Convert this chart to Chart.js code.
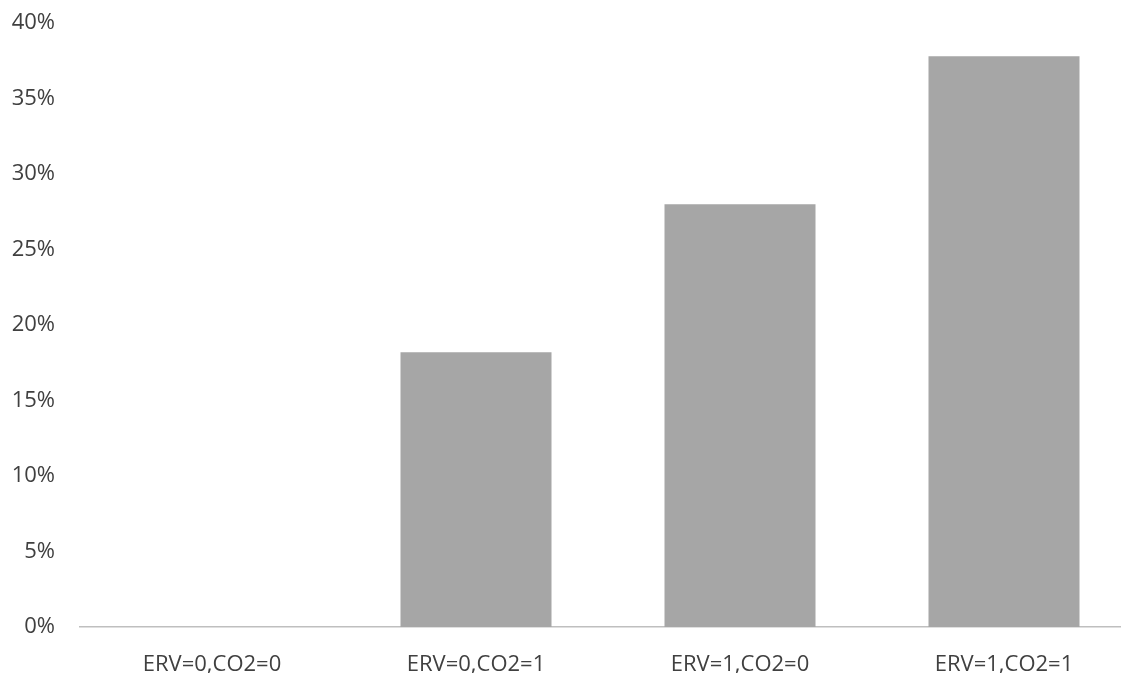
<!DOCTYPE html>
<html>
<head>
<meta charset="utf-8">
<script src="https://cdn.jsdelivr.net/npm/chart.js@4/dist/chart.umd.min.js"></script>
<style>
  html, body { margin: 0; padding: 0; background: #fff; overflow: hidden; }
  #wrap { position: relative; width: 1136px; height: 673px; }
</style>
</head>
<body>
<div id="wrap"><canvas id="c"></canvas></div>
<script>
const categories = ["ERV=0,CO2=0", "ERV=0,CO2=1", "ERV=1,CO2=0", "ERV=1,CO2=1"];
const values = [0, 18.2, 28.0, 37.8];
const yTicks = [0, 5, 10, 15, 20, 25, 30, 35, 40];

const FONT = { family: "'Open Sans', 'Liberation Sans', sans-serif", size: 22 };

new Chart(document.getElementById('c'), {
  type: 'bar',
  data: {
    labels: categories,
    datasets: [{
      data: values,
      backgroundColor: '#a6a6a6',
      borderWidth: 0,
      categoryPercentage: 1.0,
      barPercentage: 0.572
    }]
  },
  options: {
    responsive: true,
    maintainAspectRatio: false,
    animation: false,
    layout: { padding: { top: 23, right: 0, left: 0, bottom: 0 } },
    plugins: { legend: { display: false }, tooltip: { enabled: false } },
    scales: {
      x: {
        grid: { display: false, drawTicks: false },
        border: { display: true, color: '#bfbfbf', width: 1.5 },
        ticks: { color: '#404040', font: FONT, padding: 25, maxRotation: 0, autoSkip: false },
        afterFit: (s) => { s.height = 46; s.paddingLeft = 0; s.paddingRight = 0; }
      },
      y: {
        min: 0, max: 40,
        afterBuildTicks: (s) => { s.ticks = yTicks.map(v => ({ value: v })); },
        grid: { display: false, drawTicks: false },
        border: { display: false },
        ticks: { color: '#404040', font: FONT, padding: 25, callback: (v) => v + '%' },
        afterFit: (s) => { s.width = 80; s.paddingTop = 0; s.paddingBottom = 0; }
      }
    }
  }
});
</script>
</body>
</html>
